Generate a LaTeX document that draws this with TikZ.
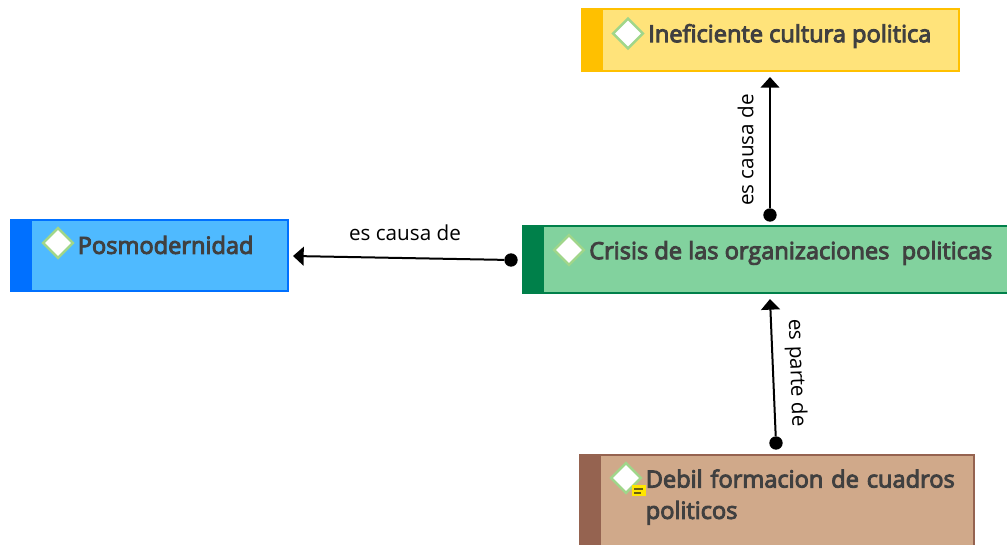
\documentclass[tikz,border=0pt]{standalone}
\usepackage{fontspec}
\setmainfont{Open Sans}
\newfontfamily\titlefont{Open Sans}[FakeBold=4]
\usetikzlibrary{arrows.meta,shapes.geometric}
\definecolor{yelFill}{HTML}{FFE37A}
\definecolor{yelEdge}{HTML}{FFC000}
\definecolor{bluFill}{HTML}{4FBAFF}
\definecolor{bluEdge}{HTML}{0070FF}
\definecolor{grnFill}{HTML}{82D29E}
\definecolor{grnEdge}{HTML}{00804A}
\definecolor{brnFill}{HTML}{D0A98A}
\definecolor{brnEdge}{HTML}{956350}
\definecolor{txtCol}{HTML}{404040}
\definecolor{diaEdge}{HTML}{A0D68A}
\definecolor{noteFill}{HTML}{FFE600}
\definecolor{noteBar}{HTML}{6B5F10}
\tikzset{
  x=0.75pt,y=-0.75pt,
  marker/.style={diamond,draw=diaEdge,fill=white,line width=1.9pt,minimum width=23pt,minimum height=23pt,inner sep=0,aspect=1},
  title/.style={text=txtCol,font=\titlefont\fontsize{17.7pt}{23.5pt}\selectfont,anchor=west,inner sep=0,align=left},
  link/.style={draw=black,line width=1.5pt,-{Triangle[length=8pt,width=14pt]}},
  linkdot/.style={circle,fill=black,inner sep=0,minimum size=10pt},
  linklabel/.style={text=black,font=\fontsize{15.5pt}{17pt}\selectfont,inner sep=0}
}
\begin{document}
\begin{tikzpicture}
\useasboundingbox (0,0) rectangle (1007,545);
\clip (0,0) rectangle (1007,545);
% yellow
\path[fill=yelFill,draw=yelEdge,line width=1.5pt] (581.5,9.5) rectangle (958.5,71.5);
\path[fill=yelEdge] (581,9) rectangle (603,72);
\node[marker] (mY) at (628,33.5) {};
\node[title] (tY) at (648,36) {Ineficiente cultura politica};
% blue
\path[fill=bluFill,draw=bluEdge,line width=1.5pt] (10.5,220.5) rectangle (287.5,291.5);
\path[fill=bluEdge] (10,220) rectangle (32,292);
\node[marker] (mB) at (58,243) {};
\node[title] (tB) at (77.5,245) {Posmodernidad};
% green
\path[fill=grnFill,draw=grnEdge,line width=1.5pt] (522.5,226.5) rectangle (1012,293);
\path[fill=grnEdge] (522,226) rectangle (544,294);
\node[marker] (mG) at (569,250) {};
\node[title] (tG) at (589,253) {Crisis de las organizaciones\ \ politicas};
% brown
\path[fill=brnFill,draw=brnEdge,line width=1.5pt] (579.5,454.5) rectangle (973.5,560);
\path[fill=brnEdge] (579,454) rectangle (601,560);
\node[marker] (mD) at (626,478) {};
\path[fill=noteFill] (632,485) rectangle (645.5,496);
\path[fill=noteBar] (634,487.5) rectangle (643,490);
\path[fill=noteBar] (634,491.5) rectangle (641,494);
\node[title,text width=250pt] (tD) at (645.5,497) {Debil formacion de cuadros\\politicos};
% connectors
\node[linkdot] (d1) at (770,215) {};
\coordinate (a1) at (770,77);
\draw[link] (d1) -- (a1);
\node[linkdot] (d2) at (511,260) {};
\coordinate (a2) at (293,256);
\draw[link] (d2) -- (a2);
\node[linkdot] (d3) at (776,443) {};
\coordinate (a3) at (770,299);
\draw[link] (d3) -- (a3);
% labels
\node[linklabel,rotate=90] (l1) at (745.5,150) {es causa de};
\node[linklabel] (l2) at (405,232.5) {es causa de};
\node[linklabel,rotate=-88] (l3) at (796,373) {es parte de};
\end{tikzpicture}
\end{document}
